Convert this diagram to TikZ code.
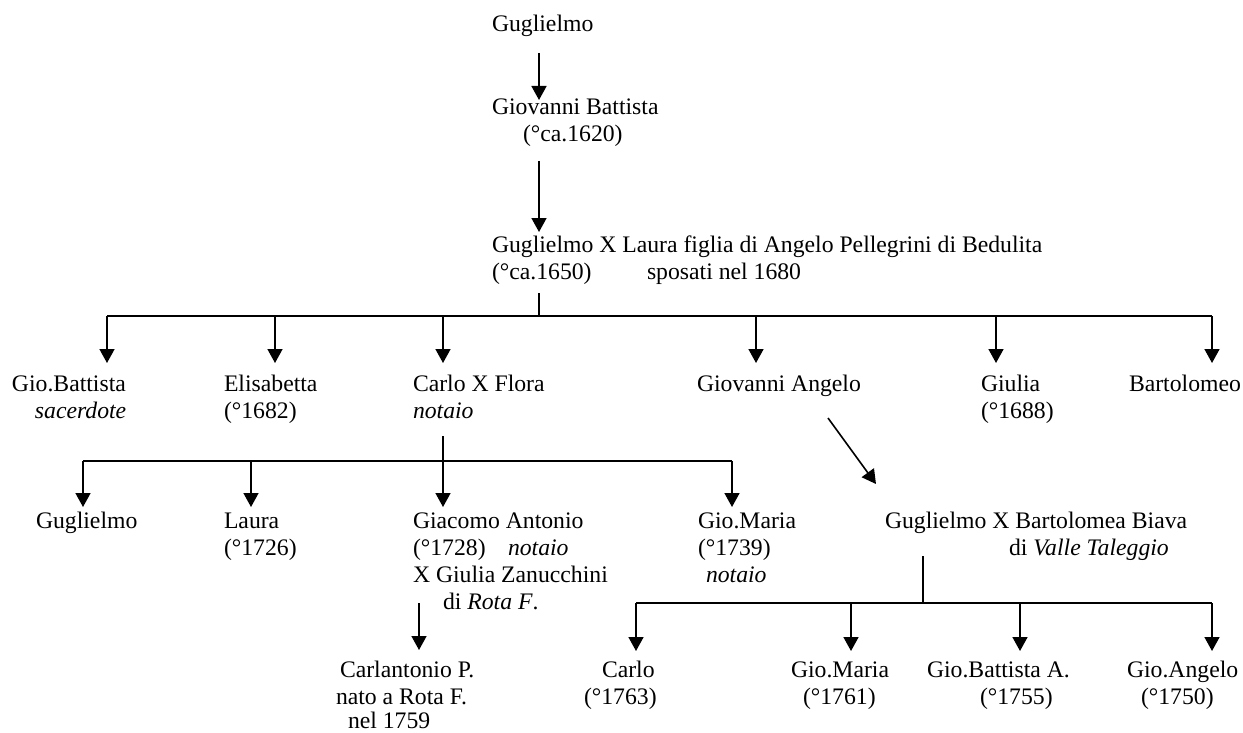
\documentclass[tikz,border=0pt]{standalone}
\usepackage{fontspec}
\setmainfont{Liberation Serif}
\usetikzlibrary{arrows.meta}
% several left-aligned lines, baseline on the first one
\newcommand{\famlines}[1]{\begin{tabular}[t]{@{}l@{}}#1\end{tabular}}
\begin{document}
\begin{tikzpicture}[x=1pt,y=-1pt,
  person/.style={anchor=base west, inner sep=0pt, outer sep=0pt,
                 font=\fontsize{23.7}{27}\selectfont},
  link/.style={line width=1.6pt},
  down/.style={link, -{Triangle[width=15pt,length=14pt]}}]
\useasboundingbox (0,0) rectangle (1243,733);

% ---- people ----
\node[person] (g0)  at (492,32)  {Guglielmo};
\node[person] (gb)  at (492,115) {\famlines{Giovanni Battista\\\hspace*{31pt}(°ca.1620)}};
\node[person] (g1)  at (492,252) {\famlines{Guglielmo X Laura figlia di Angelo Pellegrini di Bedulita\\\makebox[155pt][l]{(°ca.1650)}sposati nel 1680}};

\node[person] (gbt)   at (12,391)   {\famlines{Gio.Battista\\\hspace*{23pt}\textit{sacerdote}}};
\node[person] (eli)   at (224,391)  {\famlines{Elisabetta\\(°1682)}};
\node[person] (carlo) at (413,391)  {\famlines{Carlo X Flora\\\textit{notaio}}};
\node[person] (gang)  at (697,391)  {Giovanni Angelo};
\node[person] (giu)   at (981,391)  {\famlines{Giulia\\(°1688)}};
\node[person] (bart)  at (1129,391) {Bartolomeo};

\node[person] (gug) at (36,528)  {Guglielmo};
\node[person] (lau) at (224,528) {\famlines{Laura\\(°1726)}};
\node[person] (gia) at (413,528) {\famlines{Giacomo Antonio\\\makebox[95pt][l]{(°1728)}\textit{notaio}\\X Giulia Zanucchini\\\hspace*{30pt}di \textit{Rota F}.}};
\node[person] (gm)  at (698,528) {\famlines{Gio.Maria\\(°1739)\\\hspace*{8pt}\textit{notaio}}};
\node[person] (gba) at (885,528) {\famlines{Guglielmo X Bartolomea Biava\\\hspace*{124pt}di \textit{Valle Taleggio}}};

\node[person] (cant) at (336,677)  {\famlines{\hspace*{4pt}Carlantonio P.\\nato a Rota F.\\[-3pt]\hspace*{12pt}nel 1759}};
\node[person] (car2) at (584,677)  {\famlines{\hspace*{18pt}Carlo\\(°1763)}};
\node[person] (gm2)  at (791,677)  {\famlines{Gio.Maria\\\hspace*{12pt}(°1761)}};
\node[person] (gba2) at (927,677)  {\famlines{Gio.Battista A.\\\hspace*{53pt}(°1755)}};
\node[person] (gan2) at (1127,677) {\famlines{Gio.Angelo\\\hspace*{14pt}(°1750)}};

% ---- connection points ----
\coordinate (g0out) at (539,53);
\coordinate (gbin)  at (539,100);
\coordinate (gbout) at (539,161);
\coordinate (g1in)  at (539,232);
\coordinate (g1out) at (539,293);
\coordinate (barA)  at (539,316);
\coordinate (barAL) at (107,316);
\coordinate (barAR) at (1212,316);
\coordinate (gbtin)   at (107,363);
\coordinate (eliin)   at (275,363);
\coordinate (carloin) at (443,363);
\coordinate (gangin)  at (756,363);
\coordinate (giuin)   at (996,363);
\coordinate (bartin)  at (1212,363);

\coordinate (carloout) at (443,436);
\coordinate (barBL) at (83,461);
\coordinate (barBR) at (732,461);
\coordinate (gugin) at (83,507);
\coordinate (lauin) at (251,507);
\coordinate (giain) at (443,507);
\coordinate (gmin)  at (732,507);

\coordinate (giaout) at (419,603);
\coordinate (cantin) at (419,650);

\coordinate (gangout) at (828,418);
\coordinate (gbain)   at (876,484);

\coordinate (gbaout) at (923,556);
\coordinate (barC)   at (923,603);
\coordinate (barCL)  at (636,603);
\coordinate (barCR)  at (1212,603);
\coordinate (car2in) at (636,651);
\coordinate (gm2in)  at (851,651);
\coordinate (gba2in) at (1020,651);
\coordinate (gan2in) at (1212,651);

% ---- lines of descent ----
\draw[down] (g0out) -- (gbin);
\draw[down] (gbout) -- (g1in);
\draw[link] (g1out) -- (barA);
\draw[link] (barAL) -- (barAR);
\foreach \c in {gbtin,eliin,carloin,gangin,giuin,bartin}
  \draw[down] (\c |- barAL) -- (\c);

\draw[link] (barBL) -- (barBR);
\draw[down] (carloout) -- (giain);
\foreach \c in {gugin,lauin,gmin}
  \draw[down] (\c |- barBL) -- (\c);

\draw[down] (giaout) -- (cantin);
\draw[down] (gangout) -- (gbain);

\draw[link] (gbaout) -- (barC);
\draw[link] (barCL) -- (barCR);
\foreach \c in {car2in,gm2in,gba2in,gan2in}
  \draw[down] (\c |- barCL) -- (\c);
\end{tikzpicture}
\end{document}
